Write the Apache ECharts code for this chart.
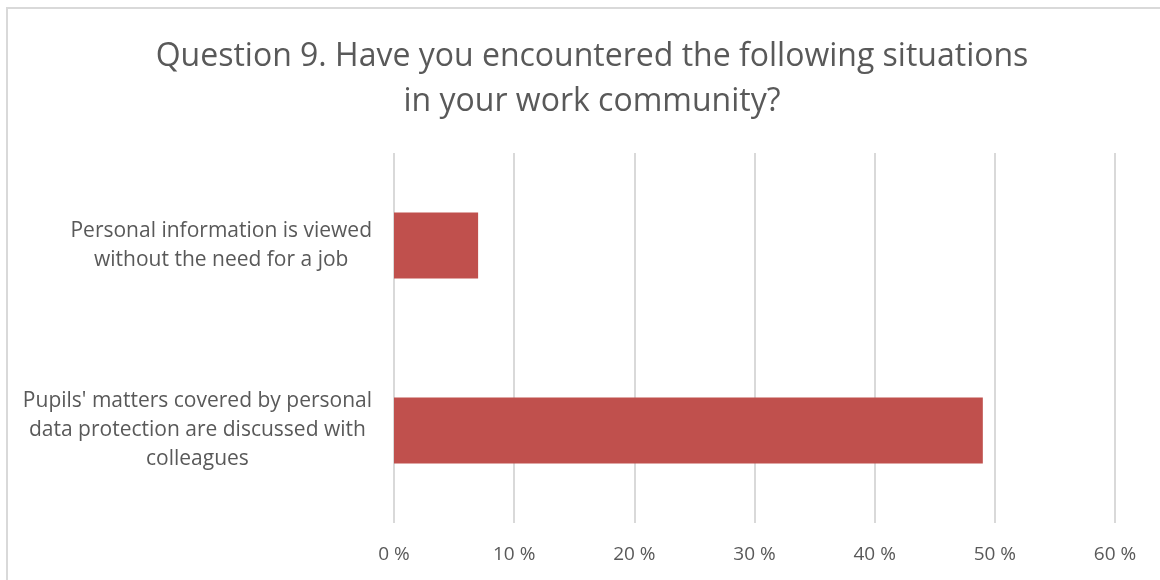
<!DOCTYPE html>
<html>
<head>
<meta charset="utf-8">
<script src="https://cdn.jsdelivr.net/npm/echarts@6/dist/echarts.min.js"></script>
<style>
  html, body { margin: 0; padding: 0; background: #fff; }
  #chart { width: 1160px; height: 580px; }
</style>
</head>
<body>
<div id="chart"></div>
<script>
// Survey question and answers (top to bottom)
const titleLines = [
  'Question 9. Have you encountered the following situations',
  'in your work community?'
];
const categories = [
  'Personal information is viewed\nwithout the need for a job',
  "Pupils' matters covered by personal\ndata protection are discussed with\ncolleagues"
];
const shares = [7, 49];          // percent of respondents
const axisMax = 60;
const axisStep = 10;

const FONT = 'Open Sans';
const GREY = '#595959';

const chart = echarts.init(document.getElementById('chart'), null, { renderer: 'canvas' });

chart.setOption({
  backgroundColor: '#ffffff',
  animation: false,
  graphic: [{
    type: 'rect',
    shape: { x: 7, y: 8, width: 1200, height: 620 },
    style: { fill: 'none', stroke: '#d9d9d9', lineWidth: 2 },
    silent: true
  }],
  title: {
    text: titleLines.join('\n'),
    left: 587,
    top: 29,
    textAlign: 'center',
    textStyle: {
      fontFamily: FONT,
      fontSize: 32,
      fontWeight: 'normal',
      color: GREY,
      lineHeight: 45
    }
  },
  grid: {
    left: 394,
    right: 45,
    top: 153,
    bottom: 57,
    containLabel: false
  },
  xAxis: {
    type: 'value',
    min: 0,
    max: axisMax,
    interval: axisStep,
    axisLine: { show: false },
    axisTick: { show: false },
    splitLine: { show: true, lineStyle: { color: '#d9d9d9', width: 2 } },
    axisLabel: {
      formatter: '{value} %',
      fontFamily: FONT,
      fontSize: 19,
      color: GREY,
      margin: 22
    }
  },
  yAxis: {
    type: 'category',
    data: categories,
    inverse: true,
    axisLine: { show: false },
    axisTick: { show: false },
    splitLine: { show: false },
    axisLabel: {
      margin: 22,
      align: 'right',
      formatter: function (v) {
        return v.split('\n').map(function (l) { return '{c|' + l + '}'; }).join('\n');
      },
      rich: {
        c: {
          align: 'center',
          fontFamily: FONT,
          fontSize: 21,
          lineHeight: 29,
          color: GREY
        }
      }
    }
  },
  series: [{
    type: 'bar',
    data: shares,
    barWidth: 66,
    itemStyle: { color: '#c0504d' }
  }]
});
</script>
</body>
</html>
